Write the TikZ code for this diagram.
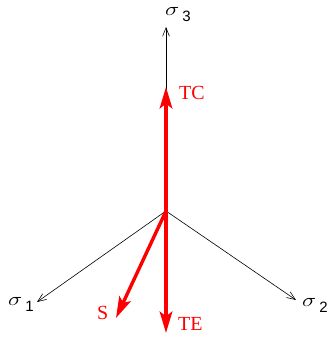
\documentclass[tikz,border=0pt]{standalone}
\usepackage{amsmath}
\usepackage{graphicx}
\usepackage{fontspec}
\usepackage{xcolor}
\usetikzlibrary{arrows.meta,positioning,calc}
\newfontfamily\lblfont{Liberation Serif}
\newfontfamily\subfont{Liberation Sans}
\tikzset{
  axis/.style  ={-{Straight Barb[length=3mm,width=2.4mm]},line width=0.6pt},
  load/.style  ={-{Stealth[length=7.5mm,width=4.4mm,inset=1.6mm]},line width=3.4pt,red},
  lbl/.style   ={font=\lblfont\fontsize{20}{23}\selectfont,text=red,inner sep=0pt,anchor=base west},
  ax/.style    ={font=\huge,inner sep=0pt,anchor=base west},
}
\newcommand{\sig}[1]{\scalebox{1.15}[0.9]{$\sigma$}\hspace{3pt}\raisebox{-7pt}{\subfont\fontsize{15}{17}\selectfont #1}}
\begin{document}
\begin{tikzpicture}[x=1pt,y=1pt]
  \useasboundingbox (0,0) rectangle (328,341);
  \coordinate (o) at (166,130);
  % principal stress axes
  \coordinate (s1) at (37,39);
  \coordinate (s2) at (296,41);
  \coordinate (s3) at (166,314);
  \draw[axis] (o) -- (s1);
  \draw[axis] (o) -- (s2);
  \draw[axis] (o) -- (s3);
  \node[ax] (l1) at (8,36) {\sig{1}};
  \node[ax] (l2) at (302,35) {\sig{2}};
  \node[ax] (l3) at (165,326) {\sig{3}};
  % load paths
  \coordinate (tc) at (166,254);
  \coordinate (te) at (166,8);
  \coordinate (s)  at (116,23);
  \draw[load] (o) -- (tc);
  \draw[load] (o) -- (te);
  \draw[load] (o) -- (s);
  \node[lbl] (ltc) at (179,241) {TC};
  \node[lbl] (lte) at (178,10) {TE};
  \node[lbl] (ls)  at (97,22) {S};
\end{tikzpicture}
\end{document}
